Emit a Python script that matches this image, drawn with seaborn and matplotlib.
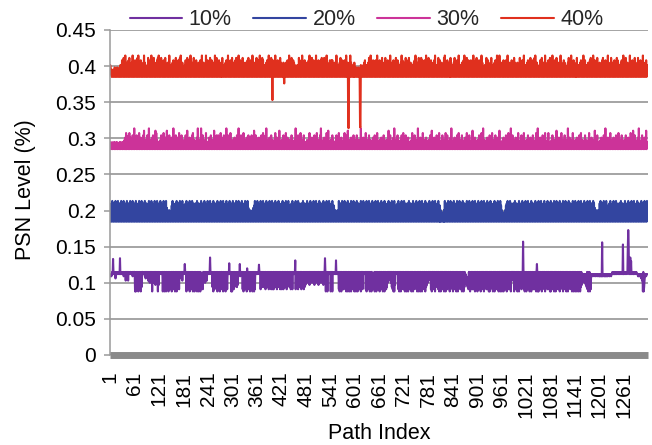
import numpy as np
import pandas as pd
import matplotlib
matplotlib.use("Agg")
import matplotlib.pyplot as plt
import seaborn as sns

# ---- data -------------------------------------------------------------
series_labels = ["10%", "20%", "30%", "40%"]
series_colors = ["#7030A0", "#3345A0", "#CC3399", "#E0301E"]

# each series is stored as digit levels: value = base + step * digit
band_base = [0.088, 0.1845, 0.285, 0.385]
band_step = [0.003, 0.0032, 0.0032, 0.0033]

psn_10 = (
    "7787898898 8986898898 9898789898 9897898959 8969598989 9898979899",
    "9080928190 8391809289 9898979698 9795989497 9490949895 9398949093",
    "9898989890 8290938092 8190839281 9082919380 9190849891 9698979598",
    "9898989082 9193809281 9290839081 9380929081 9091848194 9894989598",
    "9898989898 8290819382 9180938290 8391928091 8290839189 9898989090",
    "8191929898 9293989897 9998919092 8391809281 9380928290 8390919898",
    "9898989891 9293929483 9192839291 9482919381 9193829491 9382939192",
    "8193918292 9381929483 9291839198 9898919382 9192849291 9382919283",
    "9498949893 9894989498 9394989498 9398949894 9893989490 9190989898",
    "9098909898 9898989898 9190829093 8191928290 9380919082 9091839180",
    "9180929083 9192809481 9898989190 8293919082 9091838190 9280919381",
    "9092819380 9190839182 9495969594 9281909083 9898989180 9290819381",
    "9180939082 9091829480 9290819382 9180929081 9093809182 9190829384",
    "9596979180 9291839082 9898919081 9092819380 9190849182 9280919898",
    "9093819280 9190829381 9280939082 9684736251 9290819381 9182909281",
    "9092819380 9898919082 9281939180 9091829480 9290819381 9180929082",
    "9093809281 9190849182 9180979695 9092819380 9190829381 9280919082",
    "9091839280 9290819381 9182909380 9093819280 9898919082 9281939180",
    "9092819480 9190829381 9280919382 9091839180 9290819382 9180929081",
    "9091809180 9190829384 8685848382 9190819081 8787888788 8788878887",
    "7878787878 8787878787 8788878887 8898889888 9889898988 9898989898",
    "8989898989 9898989898 9898898989 8988878787 8786858090 2578878888",
)

psn_20 = (
    "0718091708 1609170819 0718061907 1809160718 0917081609 1708190617",
    "0819071608 1907180916 0718091708 1607190817 0918071609 1807190816",
    "0719081607 1908170916 0514051304 1709180716 0819071806 1907180917",
    "0617081905 1708190716 0918071608 1709160817 0719081607 1908170619",
    "0718091706 1809170816 0719061807 1908170916 0718091607 1809160718",
    "0917081609 1708190617 0819071608 1907180916 0415041305 1607190817",
    "0918071609 1807190816 0719081607 1908170916 0817091806 1709180716",
    "0819071806 1907180917 0617081905 1708190716 0918071608 1709160817",
    "0719081607 1908170619 0718091706 1809170816 0719061807 1908170916",
    "0718091607 1405130415 0917081609 1708190617 0819071608 1907180916",
    "0718091708 1607190817 0918071609 1807190816 0719081607 1908170916",
    "0817091806 1709180716 0819071806 1907180917 0617081905 1708190716",
    "0918071608 1709160817 0719081607 1908170619 0718091706 1809170816",
    "0719061807 1908170916 0718091607 0513041405 0917081609 1708190617",
    "0819071608 1907180916 0718091708 1607190817 0918071609 1807190816",
    "0719081607 1908170916 0817091806 1709180716 0819071806 1907180917",
    "0514041305 1708190716 0918071608 1709160817 0719081607 1908170619",
    "0718091706 1809170816 0719061807 1908170916 0718091607 1809160718",
    "0917081609 1708190617 0819071608 1907180916 0718091708 1607190817",
    "0918071609 1807190816 0719081607 1908170916 0817091806 1405130514",
    "0819071806 1907180917 0617081905 1708190716 0918071608 1709160817",
    "0719081607 1908170619 0718091706 1809170816 0719061807 1908170916",
)

psn_30 = (
    "1302130213 0312031302 1203130213 0312041507 0213061705 1304160219",
    "0314061305 1702150314 0618031402 1604190214 0315061403 1807140213",
    "0314061304 1702150318 0213061302 1503190214 0613051407 1304160213",
    "0413061408 1302150414 0617031402 1305190214 0319041603 1304170213",
    "0315021604 1402180314 0613061302 1703140516 0313091406 1304170213",
    "0413051403 1602190414 0613031702 1304150216 0315021603 1408130615",
    "0314051304 1602170314 0619041302 1503160214 0313071405 1304180213",
    "0413061403 1702150414 0213061402 1304190214 0615021703 1304160213",
    "0314021307 1402150314 0613041702 1403160914 0313051403 1704180213",
    "0413061403 1302160414 0713031502 1304170214 0618021403 1504130613",
    "0314061304 1402190314 0513041702 1403160214 0313051406 1304170213",
    "0413051403 1602130414 0218031602 1304150914 0313061403 1304160217",
    "0314061304 1502130314 0713041602 1403190214 0513021704 1304150213",
    "0413061408 1302150414 0613031702 1304160214 0317021603 1304150913",
    "0314051304 1602170314 0216041302 1503170214 0613021408 1304150213",
    "0413061403 1702190414 0213051402 1604130714 0313061403 1504180213",
    "0314051304 1602130714 0219041602 1403150214 0713021406 1304170213",
    "0413061403 1502130614 0213071409 1304150214 0613021703 1304170213",
    "0314061304 1402180314 0513041702 1403160214 0319021503 1304170213",
    "0413051403 1602170414 0213061402 1304170214 0513021408 1304160213",
    "0314051304 1602190314 0513041702 1403150214 0613021703 1304160213",
    "0413061403 1502130714 0218031602 1304150914 0313061403 1504180213",
)

psn_40 = (
    "5413031302 1403130413 0314051407 1508140916 0514071805 1406190413",
    "0715041809 1405170614 0519061503 1408170514 0915031805 1406170819",
    "0516081406 1703180514 0615091305 1406170415 0813051706 1809150614",
    "0415071308 1407150913 0516081406 1704130615 0714091306 1405190617",
    "0514081507 1406150917 0813051706 1504081305 1406170519 0615071408",
    "1406150718 0514091307 1506180513 0614051708 1405170619 0516041308",
    "1407150913 0518071405 1306170519 0615081407 1504190615 0714051806",
    "1405160413 0615071409 1306180517 0615041305 1408170514 0915031706",
    "1406150719 0514081307 1506190513 0714051708 1405180614 0916041307",
    "1407170514 0615091305 1406180417 0516071409 1306140519 0615031406",
    "0413041304 1306150413 0516071405 1306180519 0615071406 1704190615",
    "0714051806 1405180614 0716041906 1503170514 0815071305 1406190715",
    "0613081406 1708150614 0415061709 1406150813 0518071406 1704190615",
    "0814051706 1405170914 0514081507 1406150418 0913051706 1504081305",
    "1406180514 0715091405 1406150719 0514081307 1506170513 0914051708",
    "1405170614 0916041305 1408150713 0516081405 1306170519 0615091406",
    "1504170615 0714091306 1405170614 0816041406 1503180514 0715091305",
    "1406170415 0813051706 1809150614 0415071308 1406150913 0516071408",
    "1504190615 0714081306 1405190614 0517061503 1406180417 0913051706",
    "1504081305 1406170514 0915071405 1406150718 0514091307 1506180513",
    "0614051708 1405170614 0916041308 1406150713 0518071405 1306170519",
    "0615081406 1504190615 0714051806 1405180614 0716041906 1503170514",
)

# isolated readings that fall outside the regular bands (index -> level)
spikes_10 = {7: 0.133, 24: 0.134, 183: 0.126, 245: 0.135, 292: 0.127,
             318: 0.126, 336: 0.12, 365: 0.125, 454: 0.131, 527: 0.134,
             554: 0.131, 1013: 0.157, 1047: 0.126, 1207: 0.156, 1258: 0.153,
             1270: 0.15, 1271: 0.173, 1272: 0.155, 1276: 0.135, 1278: 0.13}
spikes_20 = {}
spikes_30 = {}
spikes_40 = {398: 0.353, 427: 0.376, 584: 0.315, 585: 0.314,
             613: 0.316, 614: 0.315}

x_tick_labels = ["1", "61", "121", "181", "241", "301", "361", "421", "481",
                 "541", "601", "661", "721", "781", "841", "901", "961",
                 "1021", "1081", "1141", "1201", "1261"]
y_tick_values = [0, 0.05, 0.1, 0.15, 0.2, 0.25, 0.3, 0.35, 0.4, 0.45]
y_tick_labels = ["0", "0.05", "0.1", "0.15", "0.2", "0.25", "0.3", "0.35",
                 "0.4", "0.45"]


def decode(chunks, base, step, spikes):
    digits = "".join(chunks).replace(" ", "")
    values = base + step * np.array([int(c) for c in digits], dtype=float)
    for idx, val in spikes.items():
        values[idx] = val
    return values


frames = []
for label, chunks, base, step, spikes in zip(
        series_labels, [psn_10, psn_20, psn_30, psn_40], band_base,
        band_step, [spikes_10, spikes_20, spikes_30, spikes_40]):
    vals = decode(chunks, base, step, spikes)
    frames.append(pd.DataFrame({"Path Index": np.arange(1, len(vals) + 1),
                                "PSN": vals, "series": label}))
df = pd.concat(frames, ignore_index=True)
n_paths = int(df["Path Index"].max())

# ---- figure -----------------------------------------------------------
sns.set_style("white")
plt.rcParams["font.family"] = ["Liberation Sans", "DejaVu Sans"]

W, H = 652, 445
fig = plt.figure(figsize=(W / 100, H / 100), dpi=100)
ax_l, ax_r, ax_t, ax_b = 110, 648, 30, 355
ax = fig.add_axes([ax_l / W, 1 - ax_b / H, (ax_r - ax_l) / W, (ax_b - ax_t) / H])

sns.lineplot(data=df, x="Path Index", y="PSN", hue="series",
             hue_order=series_labels, palette=series_colors,
             estimator=None, sort=False, linewidth=1.5, ax=ax)

ax.set_xlim(0.5, n_paths + 0.5)
ax.set_ylim(0, 0.45)

ax.set_yticks(y_tick_values)
ax.set_yticklabels(y_tick_labels)
tick_pos = [int(t) for t in x_tick_labels]
ax.set_xticks(tick_pos)
ax.set_xticklabels(x_tick_labels, rotation=90)

ax.set_axisbelow(True)
ax.yaxis.grid(True, color="#8c8c8c", linewidth=1.1)
ax.xaxis.grid(False)

for side in ("top", "right"):
    ax.spines[side].set_visible(False)
ax.spines["left"].set_color("#9a9a9a")
ax.spines["left"].set_linewidth(1.1)
ax.spines["bottom"].set_color("#8a8a8a")
ax.spines["bottom"].set_linewidth(5.0)
ax.spines["bottom"].set_capstyle("butt")

ax.tick_params(axis="y", left=True, length=4.5, width=1.1, color="#9a9a9a",
               pad=5.5, labelsize=15, labelcolor="black", direction="out")
ax.tick_params(axis="x", bottom=False, length=0, pad=12, labelsize=15,
               labelcolor="black")

ax.set_xlabel("Path Index", fontsize=15.5, color="black")
ax.xaxis.label.set_va("bottom")
ax.xaxis.set_label_coords(0.5, (ax_b - 444) / (ax_b - ax_t))
ax.set_ylabel("PSN Level (%)", fontsize=15.5, color="black")
ax.yaxis.label.set_va("center")
ax.yaxis.set_label_coords((26 - ax_l) / (ax_r - ax_l), 0.51)

handles, labels = ax.get_legend_handles_labels()
if ax.get_legend() is not None:
    ax.get_legend().remove()
leg = fig.legend(handles, labels, loc="center", bbox_to_anchor=(0.562, 0.956),
                 ncol=4, frameon=False, fontsize=15.5, handlelength=2.45,
                 handletextpad=0.3, columnspacing=1.0, borderaxespad=0)
for h in leg.get_lines():
    h.set_linewidth(1.5)

fig.savefig("out.png", dpi=100)
